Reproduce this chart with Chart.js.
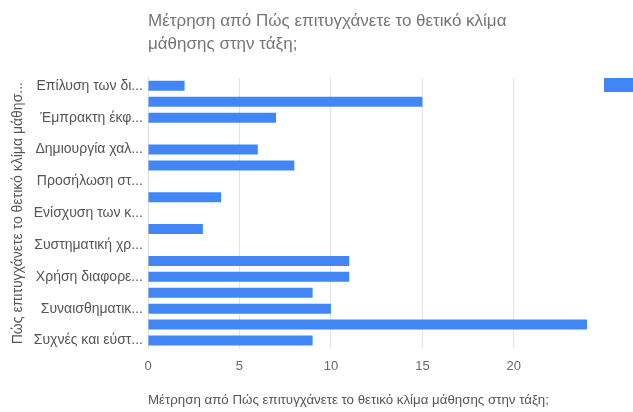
<!DOCTYPE html>
<html>
<head>
<meta charset="utf-8">
<script src="https://cdn.jsdelivr.net/npm/chart.js@4"></script>
<style>
  html, body { margin: 0; padding: 0; background: #fff; }
  #wrap { width: 633px; height: 412px; }
</style>
</head>
<body>
<div id="wrap"><canvas id="chart"></canvas></div>
<script>
// Responses per answer; only every other category label fits on the axis
const categories = [
  'Επίλυση των δι...', '', 'Έμπρακτη έκφ...', '', 'Δημιουργία χαλ...', '',
  'Προσήλωση στ...', '', 'Ενίσχυση των κ...', '', 'Συστηματική χρ...', '',
  'Χρήση διαφορε...', '', 'Συναισθηματικ...', '', 'Συχνές και εύστ...'
];
const counts = [2, 15, 7, 0, 6, 8, 0, 4, 0, 3, 0, 11, 11, 9, 10, 24, 9];
const xTicks = [0, 5, 10, 15, 20];

const chartTitle = ['Μέτρηση από Πώς επιτυγχάνετε το θετικό κλίμα', 'μάθησης στην τάξη;'];
const xTitle = 'Μέτρηση από Πώς επιτυγχάνετε το θετικό κλίμα μάθησης στην τάξη;';
const yTitle = 'Πώς επιτυγχάνετε το θετικό κλίμα μάθησ...';

const font = 'Arial, "Liberation Sans", sans-serif';
const blue = '#4285f4';

// legend swatch at the right edge; its label runs off the canvas
const legendSwatch = {
  id: 'legendSwatch',
  afterDraw(chart) {
    const ctx = chart.ctx;
    ctx.save();
    ctx.fillStyle = chart.data.datasets[0].backgroundColor;
    ctx.fillRect(604, 78, 29, 14);
    ctx.restore();
  }
};

new Chart(document.getElementById('chart'), {
  type: 'bar',
  data: {
    labels: categories,
    datasets: [{
      label: 'Μέτρηση από Πώς επιτυγχάνετε το θετικό κλίμα μάθησης στην τάξη;',
      data: counts,
      backgroundColor: blue,
      barThickness: 10,
      inflateAmount: 0
    }]
  },
  options: {
    indexAxis: 'y',
    responsive: true,
    maintainAspectRatio: false,
    animation: false,
    layout: { padding: { top: 0, right: 46, bottom: 4, left: 0 } },
    plugins: {
      legend: { display: false },
      tooltip: { enabled: false },
      title: {
        display: true,
        text: chartTitle,
        align: 'start',
        fullSize: false,
        color: '#757575',
        font: { family: font, size: 17, weight: 'normal', lineHeight: 1.35 },
        padding: { top: 10, bottom: 22 }
      }
    },
    scales: {
      x: {
        min: 0,
        max: 24,
        afterBuildTicks: scale => {
          scale.ticks = xTicks.map(v => ({ value: v }));
        },
        grid: { color: '#e3e3e3', drawTicks: false },
        border: { display: false },
        ticks: {
          color: '#666',
          padding: 10,
          font: { family: font, size: 13 }
        },
        title: {
          display: true,
          text: xTitle,
          align: 'start',
          color: '#555',
          font: { family: font, size: 13.3 },
          padding: { top: 8, bottom: 0 }
        }
      },
      y: {
        afterFit: scale => { scale.width = 148; },
        grid: { display: false, drawTicks: false },
        border: { display: true, color: '#dcdcdc' },
        ticks: {
          autoSkip: false,
          color: '#555',
          padding: 5,
          font: { family: font, size: 14 }
        },
        title: {
          display: true,
          text: yTitle,
          color: '#555',
          font: { family: font, size: 14 },
          padding: { top: 10, bottom: 0 }
        }
      }
    }
  },
  plugins: [legendSwatch]
});
</script>
</body>
</html>
